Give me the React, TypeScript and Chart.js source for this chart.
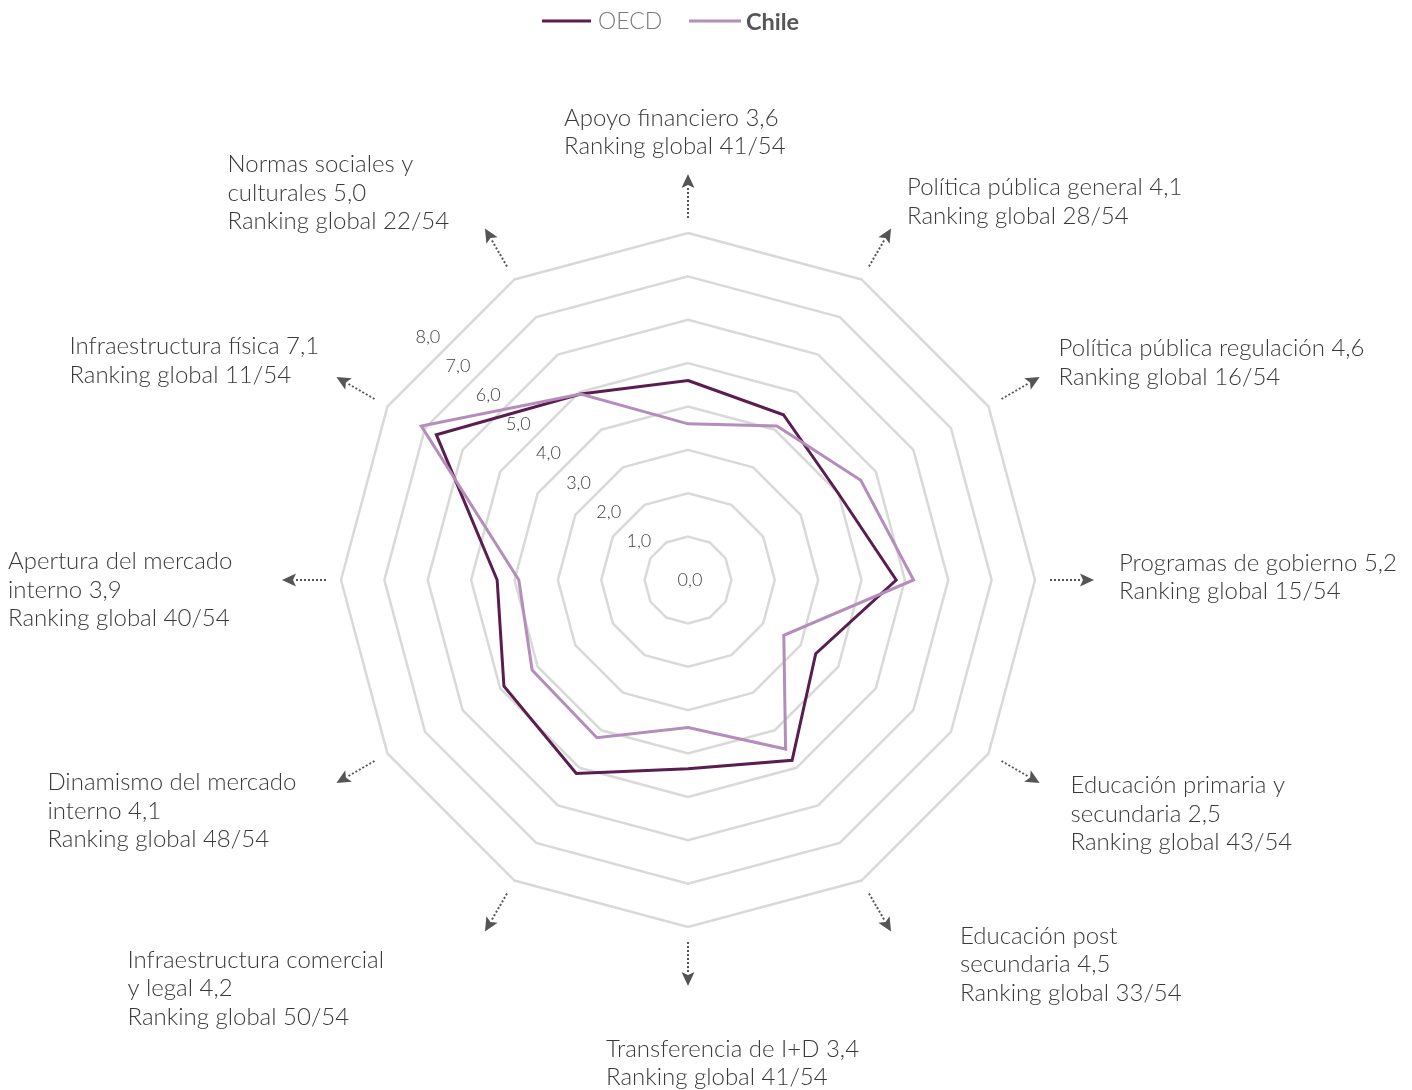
import React, { useEffect, useRef } from 'react';
import { Chart, registerables } from 'chart.js';

Chart.register(...registerables);

// ---- data ----
const categories = [
  'Apoyo financiero',
  'Política pública general',
  'Política pública regulación',
  'Programas de gobierno',
  'Educación primaria y secundaria',
  'Educación post secundaria',
  'Transferencia de I+D',
  'Infraestructura comercial y legal',
  'Dinamismo del mercado interno',
  'Apertura del mercado interno',
  'Infraestructura física',
  'Normas sociales y culturales',
];

const categoryLabelLines = [
  ['Apoyo financiero 3,6', 'Ranking global 41/54'],
  ['Política pública general 4,1', 'Ranking global 28/54'],
  ['Política pública regulación 4,6', 'Ranking global 16/54'],
  ['Programas de gobierno 5,2', 'Ranking global 15/54'],
  ['Educación primaria y', 'secundaria 2,5', 'Ranking global 43/54'],
  ['Educación post', 'secundaria 4,5', 'Ranking global 33/54'],
  ['Transferencia de I+D 3,4', 'Ranking global 41/54'],
  ['Infraestructura comercial', 'y legal 4,2', 'Ranking global 50/54'],
  ['Dinamismo del mercado', 'interno 4,1', 'Ranking global 48/54'],
  ['Apertura del mercado', 'interno 3,9', 'Ranking global 40/54'],
  ['Infraestructura física 7,1', 'Ranking global 11/54'],
  ['Normas sociales y', 'culturales 5,0', 'Ranking global 22/54'],
];

const seriesNames = ['OECD', 'Chile'];
const oecdValues = [4.6, 4.4, 4.0, 4.8, 3.4, 4.8, 4.35, 5.15, 4.9, 4.4, 6.7, 4.95];
const chileValues = [3.6, 4.1, 4.6, 5.2, 2.55, 4.5, 3.4, 4.2, 4.15, 3.9, 7.1, 4.95];

const tickValues = [0, 1, 2, 3, 4, 5, 6, 7, 8];
const tickLabels = ['0,0', '1,0', '2,0', '3,0', '4,0', '5,0', '6,0', '7,0', '8,0'];

// ---- layout / style (not data) ----
const OECD_COLOR = '#5a1d4f';
const CHILE_COLOR = '#b48dbb';
const GRID_COLOR = '#d9d9d9';
const TEXT_COLOR = '#3a3a3a';
const ARROW_COLOR = '#555555';
const LABEL_FONT = '300 24px Lato, "Open Sans", sans-serif';
const LABEL_LINE_HEIGHT = 28.5;
// offsets of each label block (left x, first-line middle y) from its arrow tip
const labelOffsets: [number, number][] = [
  [-124, -56],
  [16, -41],
  [19, -28.5],
  [25, -17],
  [31, 2.5],
  [69, 4.5],
  [-82, 63],
  [-357.5, 28.5],
  [-289, -0.5],
  [-274, -18.5],
  [-267, -30.5],
  [-257.5, -64],
];

const decorPlugin = {
  id: 'decor',
  afterDraw(chart: any) {
    const ctx: CanvasRenderingContext2D = chart.ctx;
    const scale = chart.scales.r;
    const cx = scale.xCenter;
    const cy = scale.yCenter;
    const n = categories.length;
    ctx.save();

    // tick labels along a diagonal
    ctx.font = '300 18px Lato, "Open Sans", sans-serif';
    ctx.fillStyle = '#404040';
    ctx.textAlign = 'center';
    ctx.textBaseline = 'middle';
    const a = (314 * Math.PI) / 180;
    tickValues.forEach((v, i) => {
      const r = scale.getDistanceFromCenterForValue(v);
      let x = cx + 2;
      let y = cy;
      if (v > 0) {
        const d = r * Math.cos(Math.PI / 12);
        x = cx + Math.sin(a) * d - 19;
        y = cy - Math.cos(a) * d - 10;
      }
      ctx.fillText(tickLabels[i], x, y);
    });

    // arrows + category labels
    for (let i = 0; i < n; i++) {
      const p0 = scale.getPointPosition(i, 362);
      const pb = scale.getPointPosition(i, 392);
      const pt = scale.getPointPosition(i, 406);
      const ux = (pt.x - cx) / 406;
      const uy = (pt.y - cy) / 406;
      ctx.strokeStyle = ARROW_COLOR;
      ctx.lineWidth = 2;
      ctx.setLineDash([2, 2]);
      ctx.beginPath();
      ctx.moveTo(p0.x, p0.y);
      ctx.lineTo(pb.x + ux * 2, pb.y + uy * 2);
      ctx.stroke();
      ctx.setLineDash([]);
      ctx.fillStyle = ARROW_COLOR;
      const hw = 6.5;
      ctx.beginPath();
      ctx.moveTo(pt.x, pt.y);
      ctx.lineTo(pb.x - uy * hw, pb.y + ux * hw);
      ctx.lineTo(pb.x + ux * 3, pb.y + uy * 3);
      ctx.lineTo(pb.x + uy * hw, pb.y - ux * hw);
      ctx.closePath();
      ctx.fill();

      ctx.font = LABEL_FONT;
      ctx.fillStyle = TEXT_COLOR;
      ctx.textAlign = 'left';
      ctx.textBaseline = 'middle';
      const [dx, dy] = labelOffsets[i];
      categoryLabelLines[i].forEach((line, j) => {
        ctx.fillText(line, pt.x + dx, pt.y + dy + j * LABEL_LINE_HEIGHT);
      });
    }

    // legend
    const legendY = 21;
    ctx.lineWidth = 3;
    ctx.strokeStyle = OECD_COLOR;
    ctx.beginPath();
    ctx.moveTo(542, legendY);
    ctx.lineTo(591, legendY);
    ctx.stroke();
    ctx.font = '300 23px Lato, "Open Sans", sans-serif';
    ctx.fillStyle = '#7a7a7a';
    ctx.textAlign = 'left';
    ctx.textBaseline = 'middle';
    ctx.fillText(seriesNames[0], 598, legendY + 1);
    ctx.strokeStyle = CHILE_COLOR;
    ctx.beginPath();
    ctx.moveTo(689, legendY);
    ctx.lineTo(741, legendY);
    ctx.stroke();
    ctx.font = 'bold 23.5px Lato, "Open Sans", sans-serif';
    ctx.fillStyle = '#555555';
    ctx.fillText(seriesNames[1], 746, legendY + 1);

    ctx.restore();
  },
};

export default function App() {
  const ref = useRef<HTMLCanvasElement>(null);
  useEffect(() => {
    const canvas = ref.current;
    if (!canvas) return;
    const chart = new Chart(canvas, {
      type: 'radar',
      data: {
        labels: categories,
        datasets: [
          {
            label: seriesNames[0],
            data: oecdValues,
            borderColor: OECD_COLOR,
            backgroundColor: 'rgba(0,0,0,0)',
            borderWidth: 3,
            pointRadius: 0,
            fill: false,
            order: 1,
          },
          {
            label: seriesNames[1],
            data: chileValues,
            borderColor: CHILE_COLOR,
            backgroundColor: 'rgba(0,0,0,0)',
            borderWidth: 3,
            pointRadius: 0,
            fill: false,
            order: 0,
          },
        ],
      },
      options: {
        responsive: false,
        animation: false,
        layout: { padding: { left: 341, right: 377, top: 233, bottom: 163 } },
        elements: { line: { tension: 0, borderJoinStyle: 'miter' } },
        plugins: { legend: { display: false }, tooltip: { enabled: false } },
        scales: {
          r: {
            min: 0,
            max: 8,
            ticks: { display: false, stepSize: 1 },
            grid: { color: GRID_COLOR, lineWidth: 2.5 },
            angleLines: { display: false },
            pointLabels: { display: false },
          },
        },
      },
      plugins: [decorPlugin],
    } as any);
    return () => chart.destroy();
  }, []);
  return (
    <div style={{ position: 'fixed', left: 0, top: 0, width: 1412, height: 1090, background: '#ffffff' }}>
      <canvas ref={ref} width={1412} height={1090} style={{ display: 'block' }} />
    </div>
  );
}
